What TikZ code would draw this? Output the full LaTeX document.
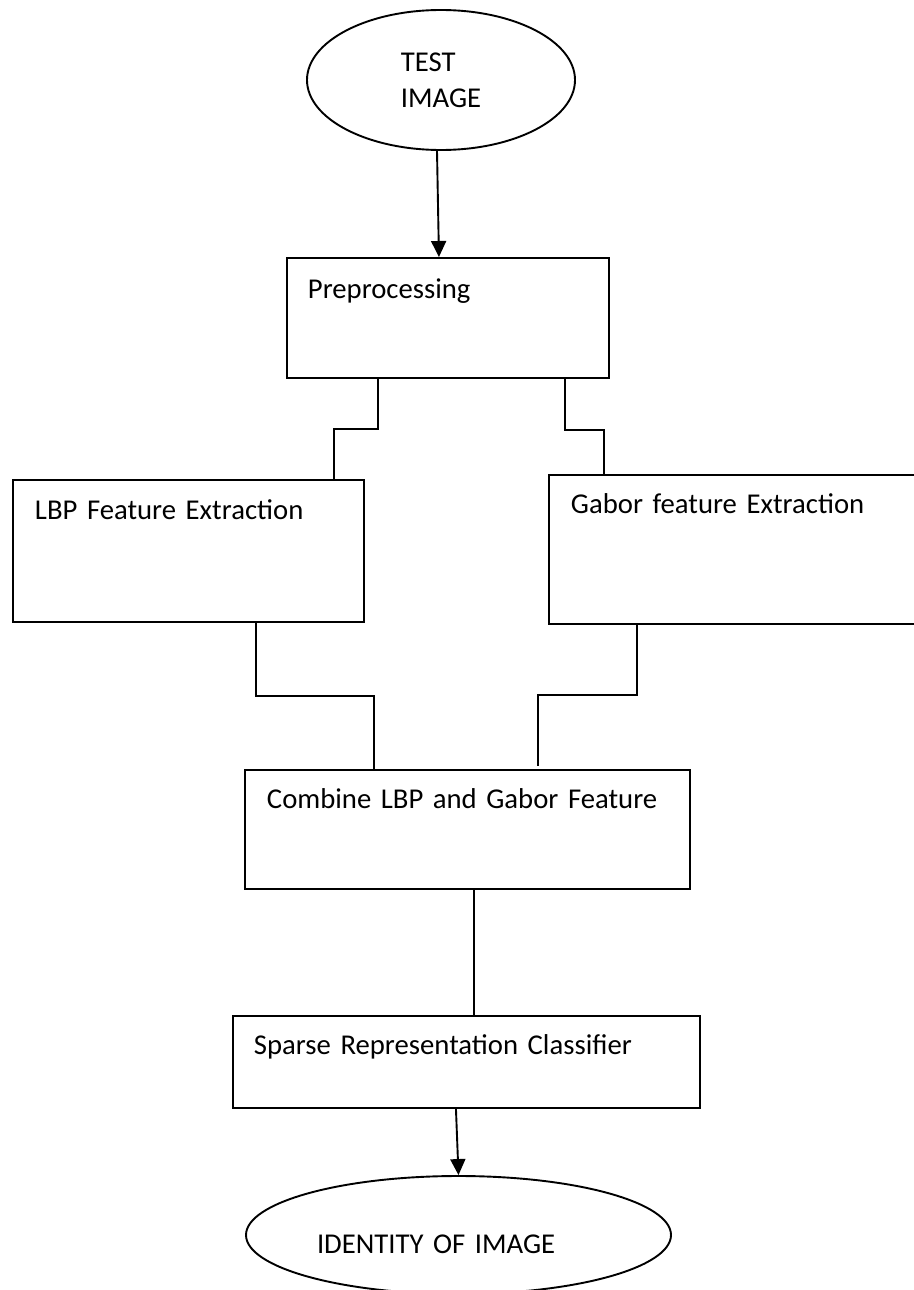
\documentclass[tikz,border=0pt]{standalone}
\usepackage{fontspec}
\setmainfont{Carlito}
\usepackage{tikz}
\usetikzlibrary{arrows.meta, shapes.geometric}
\newcommand{\flowfont}{\fontsize{28.7}{36}\selectfont}
\tikzset{
	flowline/.style = {line width = 1.9pt},
	flowarrow/.style = {flowline, -{Triangle[length = 16pt, width = 15pt]}},
	stagebox/.style = {draw, line width = 1.9pt, rectangle, anchor = north west, inner ysep = 0pt, inner xsep = 22pt, align = left, font = \flowfont},
	terminal/.style = {draw, line width = 1.9pt, ellipse, inner sep = 0pt, align = left, font = \flowfont}
}

\begin{document}
\begin{tikzpicture}[x = 1pt, y = -1pt]
	\path [use as bounding box, draw = none] (0, 0) rectangle (913, 1290);
	\node [terminal, minimum width = 268pt, minimum height = 140pt] (test) at (441, 80) {TEST\\IMAGE};
	\node [stagebox, inner xsep = 21pt, text width = 280pt, text height = 41pt, text depth = 79pt] (prep) at (286, 257) {Preprocessing};
	\node [stagebox, text width = 307pt, text height = 40pt, text depth = 102pt] (lbp) at (12, 479) {LBP Feature Extraction};
	\node [stagebox, text width = 338pt, text height = 39pt, text depth = 110pt] (gabor) at (548, 474) {Gabor feature Extraction};
	\node [stagebox, text width = 401pt, text height = 39pt, text depth = 80pt] (comb) at (244, 769) {Combine LBP and Gabor Feature};
	\node [stagebox, inner xsep = 21pt, text width = 425pt, text height = 39pt, text depth = 53pt] (src) at (232, 1015) {Sparse Representation Classifier};
	\node [terminal, minimum width = 425pt, minimum height = 118pt, text width = 283pt, text height = 40pt, text depth = 4pt] (ident) at (458.5, 1235) {IDENTITY OF IMAGE};

	\draw [flowarrow] ([xshift = -4pt]test.south) -- ([xshift = -9pt]prep.north);
	\draw [flowline] ([xshift = 92pt]prep.south west) -- ++(0, 50) -| ([xshift = 322pt]lbp.north west);
	\draw [flowline] ([xshift = 279pt]prep.south west) -- ++(0, 51) -| ([xshift = 56pt]gabor.north west);
	\draw [flowline] ([xshift = 244pt]lbp.south west) -- ++(0, 73) -| ([xshift = 130pt]comb.north west);
	\draw [flowline] ([xshift = 89pt]gabor.south west) -- ++(0, 70) -| ([xshift = 294pt, yshift = 3pt]comb.north west);
	\draw [flowline] ([xshift = 230pt]comb.south west) -- ([xshift = 242pt]src.north west);
	\draw [flowarrow] ([xshift = -10.5pt]src.south) -- (ident.north);
\end{tikzpicture}
\end{document}
